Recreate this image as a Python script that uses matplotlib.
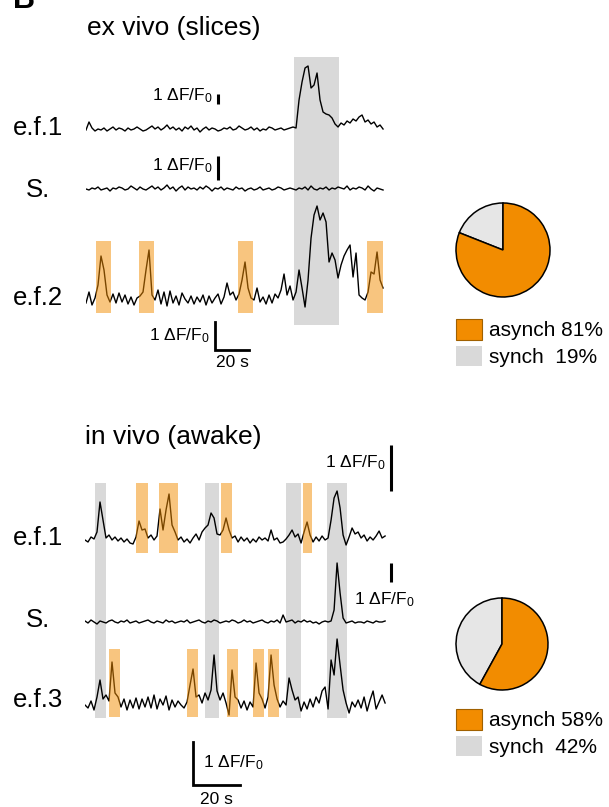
import numpy as np
import matplotlib
matplotlib.use('Agg')
import matplotlib.pyplot as plt
from matplotlib.patches import Rectangle, Patch

plt.rcParams['font.family'] = ['Liberation Sans', 'DejaVu Sans']
plt.rcParams['mathtext.fontset'] = 'custom'
plt.rcParams['mathtext.rm'] = 'Liberation Sans'
plt.rcParams['mathtext.it'] = 'Liberation Sans:italic'

W, H = 609, 807
ORANGE = '#F28C00'
SHADE_GRAY = '#D9D9D9'
PIE_GRAY = '#E6E6E6'

# ---------------- data ----------------
# sampling interval of the digitised traces (s)
dt_slice = 1.765
dt_awake = 1.277

# ex vivo (slices) traces, deflection in display units
slice_ef1 = [0, 8, 2, -1, 1, 0, 2, -1, 1, 3,
             0, 2, 1, -1, 2, 0, 1, 3, 1, -1,
             0, 2, 4, 1, 3, 0, 2, 5, 1, 3,
             0, 2, -1, 3, 1, 4, 0, 2, -2, 1,
             3, 0, 2, 1, -1, 0, 2, 1, 3, 0,
             1, 4, 2, 0, 1, 3, 0, 2, -1, 1,
             0, 3, 2, 0, 1, 2, 0, 1, 2, 3,
             2, 30, 48, 62, 64, 42, 45, 57, 30, 18,
             16, 15, 12, 6, 3, 7, 5, 9, 7, 11,
             9, 13, 15, 8, 10, 6, 8, 3, 5, 1]
slice_S = [0, -1, 1, 0, 2, -1, 0, 1, -2, 1,
           0, 2, 1, -1, 0, 3, 1, -1, 2, 0,
           -1, 1, 3, 0, 2, -1, 1, 4, 0, 2,
           -2, 1, 3, -1, 2, 0, 1, -1, 2, 0,
           3, 1, -2, 1, 0, 2, -1, 1, 0, -1,
           2, 0, 1, -2, 0, 1, -1, 0, 2, -1,
           0, 1, -1, 0, 2, 1, -1, 0, 1, 0,
           -1, 1, 0, 2, -1, 3, 0, -1, 1, 0,
           2, -1, 1, 0, 2, 1, 0, 3, -1, 1,
           0, 2, 1, -1, 3, 0, -2, 1, 0, -1]
slice_ef2 = [-3, 8, -5, 2, 15, 44, 30, 5, -2, 6,
             -3, 7, -2, 5, -4, 3, -5, 2, 4, 8,
             30, 50, 5, 0, 10, -4, 8, -6, 9, -3,
             4, -5, 7, 1, -3, 4, -4, 3, -2, 5,
             -5, 4, -3, 2, 6, -4, 3, 17, 5, 8,
             0, 6, 20, 38, 12, 2, 0, 12, -2, 3,
             -4, 5, -3, 6, 2, 10, 26, 5, 14, 0,
             8, 30, 12, -7, 20, 62, 85, 94, 80, 87,
             78, 38, 47, 40, 22, 35, 44, 50, 55, 23,
             47, 5, 2, 0, 8, 28, 26, 48, 20, 12]

# in vivo (awake) traces
awake_ef1 = [0, -2, 3, 1, 8, 38, 20, 2, 5, 0,
             3, -1, 2, -2, 1, -3, -4, 3, 19, 10,
             11, 2, 5, 0, 4, 31, 10, 30, 46, 15,
             8, 0, 3, -2, 1, -3, 2, 6, 0, 8,
             12, 15, 27, 22, 6, 5, 10, 22, 10, 2,
             4, -2, 3, -1, 2, -3, 1, -2, 3, 0,
             2, -1, 10, 0, 2, -3, -2, 1, 5, 10,
             3, 6, -3, 8, 18, 5, -2, 3, -1, 4,
             0, 2, 20, 42, 49, 32, 5, -5, 3, 12,
             6, 8, 2, 5, -1, 3, 0, 4, 9, 2,
             4]
awake_S = [1, -1, 2, 0, -2, 1, 0, -1, 1, 2,
           0, -1, 1, 0, 2, -1, 0, 1, -1, 0,
           1, 2, 0, -1, 1, 0, -1, 2, 0, 1,
           -1, 0, 1, 0, 2, -1, 0, 1, 2, 0,
           -1, 1, 0, 2, 1, -1, 0, 1, 0, 2,
           1, -1, 0, 2, 0, 1, -1, 0, 1, 2,
           0, -1, 1, 0, 2, -1, 7, 0, 1, 2,
           -1, 1, 0, 2, 0, 1, -1, 0, -2, 0,
           1, 0, 1, 12, 59, 29, 4, -1, 0, 1,
           -1, 0, 0, -1, 1, 0, -1, 1, 0, 0,
           1]
awake_ef3 = [0, -3, 4, -5, 8, 25, 6, 10, 4, 43,
             12, 8, -2, 6, -5, 5, -3, 7, -4, 6,
             -2, 8, -3, 10, -4, 6, 0, 9, -5, 5,
             -2, 4, 0, -3, 3, 20, 36, 8, 10, 2,
             12, 5, 15, 50, 14, 5, 12, 2, -10, 35,
             8, 5, -3, 4, -5, 3, -2, 42, 12, 6,
             -3, 8, 50, 20, 6, -2, 4, 0, 27, 15,
             5, 8, -6, 3, -4, 6, -2, 8, 2, 14,
             18, -4, 45, 30, 66, 40, 15, 2, -8, 3,
             -2, 5, -3, 8, -6, 5, 14, -4, 3, 10,
             2]

# event windows (s)
slice_synch = [(122.4, 148.8)]
slice_asynch = [(5.9, 14.7), (31.2, 40.0), (89.4, 98.2), (165.3, 174.7)]
awake_synch = [(4.3, 8.9), (51.1, 57.0), (85.5, 91.9), (103.0, 111.5)]
awake_asynch_ef1 = [(21.7, 26.8), (31.5, 39.6), (57.9, 62.6), (92.8, 96.6)]
awake_asynch_ef3 = [(10.2, 14.9), (43.4, 48.1), (60.4, 65.1), (71.5, 76.2), (77.9, 82.6)]

pie_names = ['synch', 'asynch']
slice_pct = [19, 81]
awake_pct = [42, 58]

# ---------------- figure ----------------
fig = plt.figure(figsize=(W / 100, H / 100), dpi=100)


def px_axes(x0, y0, x1, y1):
    return fig.add_axes([x0 / W, 1 - y1 / H, (x1 - x0) / W, (y1 - y0) / H])


def fx(px):
    return px / W


def fy(py):
    return 1 - py / H


def draw_trace(ax, dt, vals, base):
    v = np.asarray(vals, float)
    t = np.arange(len(v)) * dt
    ax.plot(t, base + v, color='black', lw=1.0, zorder=2)


def vbar(ax, t, y0, length):
    ax.plot([t, t], [y0, y0 + length], color='black', lw=2.2,
            solid_capstyle='butt', zorder=3, clip_on=False)


# ---- top panel: ex vivo ----
axT = px_axes(86, 30, 400, 380)
axT.set_xlim(0, 314 / 1.7)
axT.set_ylim(0, 350)
axT.axis('off')

for (a, b) in slice_synch:
    axT.add_patch(Rectangle((a, 55), b - a, 268, facecolor=SHADE_GRAY,
                            edgecolor='none', zorder=1))
draw_trace(axT, dt_slice, slice_ef1, 250)
draw_trace(axT, dt_slice, slice_S, 191)
draw_trace(axT, dt_slice, slice_ef2, 80)
for (a, b) in slice_asynch:
    axT.add_patch(Rectangle((a, 67), b - a, 72, facecolor=ORANGE,
                            alpha=0.5, edgecolor='none', zorder=4))

sfs = 12.5
vbar(axT, 77.6, 276, 10)
axT.text(74.5, 284, '1 ΔF/F$_0$', ha='right', va='center', fontsize=sfs)
vbar(axT, 77.6, 200, 24)
axT.text(74.5, 214, '1 ΔF/F$_0$', ha='right', va='center', fontsize=sfs)
axT.plot([75.9, 75.9, 95.9], [58, 30, 30], color='black', lw=2.0,
         solid_joinstyle='miter', zorder=3)
axT.text(72.5, 44, '1 ΔF/F$_0$', ha='right', va='center', fontsize=sfs)
axT.text(85.9, 18, '20 s', ha='center', va='center', fontsize=sfs)

# ---- bottom panel: in vivo ----
axB = px_axes(85, 430, 420, 807)
axB.set_xlim(0, 335 / 2.35)
axB.set_ylim(0, 377)
axB.axis('off')

for (a, b) in awake_synch:
    axB.add_patch(Rectangle((a, 89), b - a, 235, facecolor=SHADE_GRAY,
                            edgecolor='none', zorder=1))
draw_trace(axB, dt_awake, awake_ef1, 267)
draw_trace(axB, dt_awake, awake_S, 185)
draw_trace(axB, dt_awake, awake_ef3, 102)
for (a, b) in awake_asynch_ef1:
    axB.add_patch(Rectangle((a, 254), b - a, 70, facecolor=ORANGE,
                            alpha=0.5, edgecolor='none', zorder=4))
for (a, b) in awake_asynch_ef3:
    axB.add_patch(Rectangle((a, 90), b - a, 68, facecolor=ORANGE,
                            alpha=0.5, edgecolor='none', zorder=4))

vbar(axB, 130.2, 316, 46)
axB.text(128.0, 344, '1 ΔF/F$_0$', ha='right', va='center', fontsize=sfs)
vbar(axB, 130.2, 225, 19)
axB.text(114.5, 207, '1 ΔF/F$_0$', ha='left', va='center', fontsize=sfs)
axB.plot([46.0, 46.0, 66.0], [65, 22, 22], color='black', lw=2.0,
         solid_joinstyle='miter', zorder=3)
axB.text(50.2, 44, '1 ΔF/F$_0$', ha='left', va='center', fontsize=sfs)
axB.text(56.0, 7, '20 s', ha='center', va='center', fontsize=sfs)

# ---- labels ----
fig.text(fx(87), fy(28), 'ex vivo (slices)', fontsize=19, ha='left', va='center')
fig.text(fx(85), fy(437), 'in vivo (awake)', fontsize=19, ha='left', va='center')
fig.text(fx(13), fy(8.5), 'B', fontsize=22, fontweight='bold', ha='left', va='baseline')
for (lab, y) in [('e.f.1', 128), ('S.', 190), ('e.f.2', 298),
                 ('e.f.1', 538), ('S.', 620), ('e.f.3', 700)]:
    fig.text(fx(38), fy(y), lab, fontsize=18.5, ha='center', va='center')


# ---- pies ----
def draw_pie(cx, cy, r, pct, legend_top):
    axp = px_axes(cx - r - 2, cy - r - 2, cx + r + 2, cy + r + 2)
    axp.pie(pct, colors=[PIE_GRAY, ORANGE], startangle=90, counterclock=True,
            wedgeprops=dict(edgecolor='black', linewidth=1.1))
    lim = (r + 2) / r
    axp.set_xlim(-lim, lim)
    axp.set_ylim(-lim, lim)
    axp.set_aspect('equal')
    handles = [Patch(facecolor=ORANGE, edgecolor='#a06000', linewidth=0.8),
               Patch(facecolor=SHADE_GRAY, edgecolor='none')]
    labels = [f'{pie_names[1]} {pct[1]}%', f'{pie_names[0]}  {pct[0]}%']
    fig.legend(handles, labels, loc='upper left',
               bbox_to_anchor=(fx(456), fy(legend_top)),
               bbox_transform=fig.transFigure, frameon=False, fontsize=15,
               handlelength=1.25, handleheight=1.15, handletextpad=0.35,
               labelspacing=0.25, borderpad=0, borderaxespad=0)


draw_pie(503, 250, 47, slice_pct, 319)
draw_pie(502, 644, 46, awake_pct, 709)

fig.savefig('out.png', dpi=100)
